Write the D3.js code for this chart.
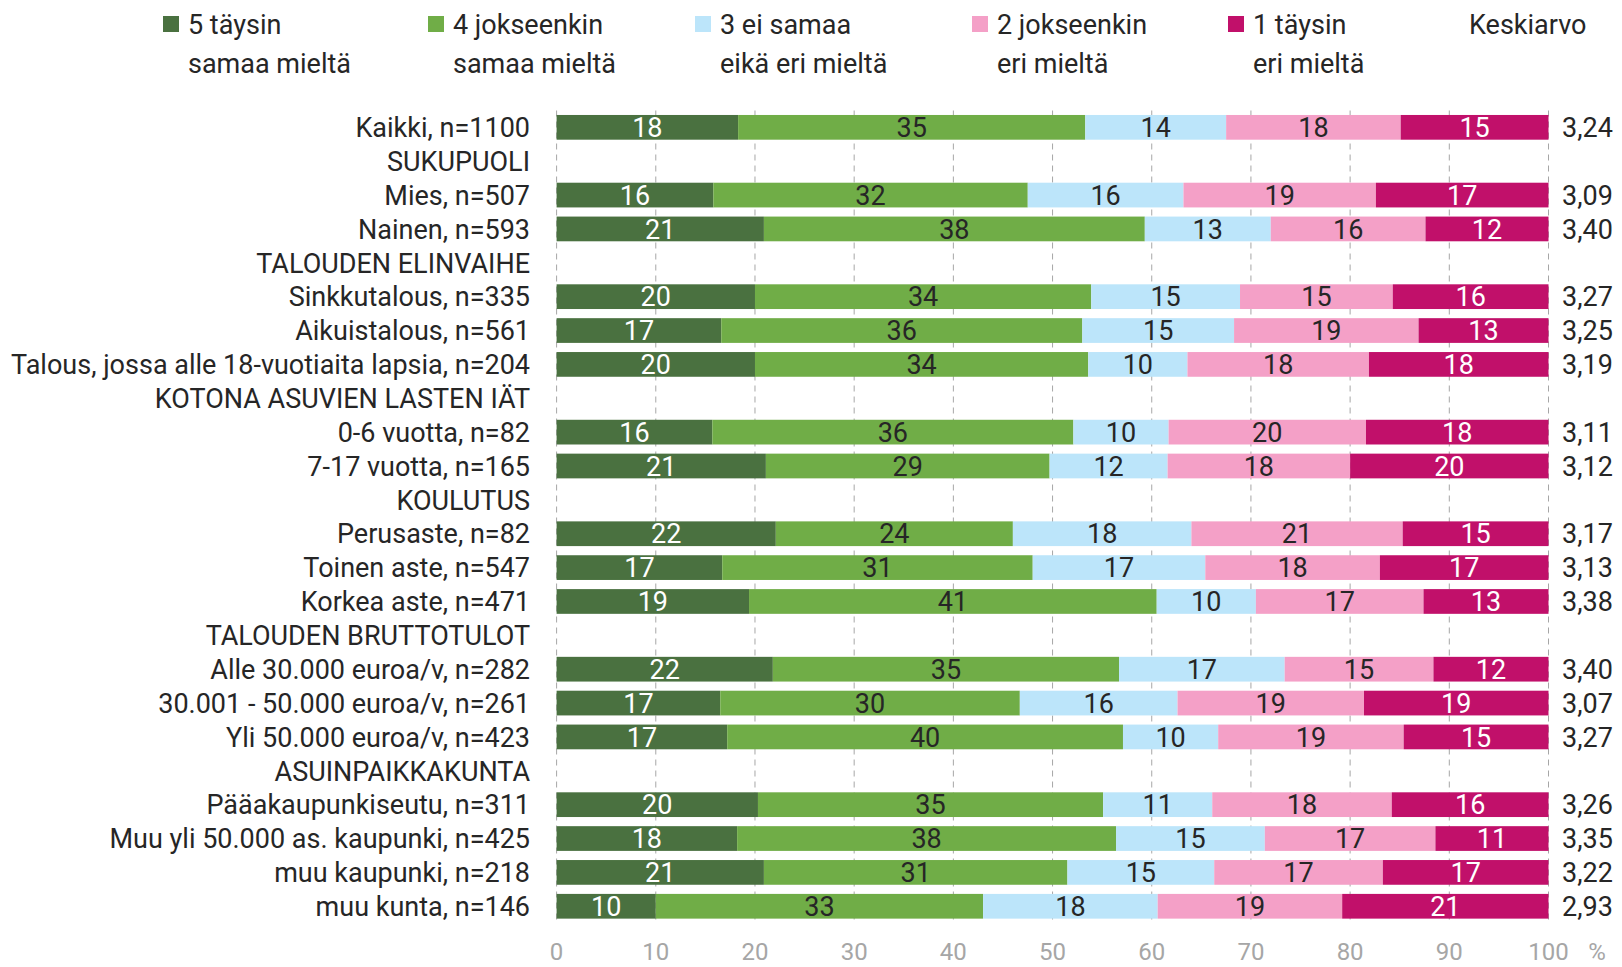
<!DOCTYPE html>
<html lang="fi">
<head>
<meta charset="utf-8">
<title>Keskiarvo</title>
<script src="https://cdn.jsdelivr.net/npm/d3@7"></script>
<style>
  body { margin: 0; background: #fff; }
  text { font-family: "Liberation Sans Narrow", "Roboto", sans-serif; }
</style>
</head>
<body>
<script>
// rows of the chart, headers have no bars
var categories = [
  "Kaikki, n=1100", "SUKUPUOLI", "Mies, n=507", "Nainen, n=593",
  "TALOUDEN ELINVAIHE", "Sinkkutalous, n=335", "Aikuistalous, n=561",
  "Talous, jossa alle 18-vuotiaita lapsia, n=204",
  "KOTONA ASUVIEN LASTEN IÄT", "0-6 vuotta, n=82", "7-17 vuotta, n=165",
  "KOULUTUS", "Perusaste, n=82", "Toinen aste, n=547", "Korkea aste, n=471",
  "TALOUDEN BRUTTOTULOT", "Alle 30.000 euroa/v, n=282",
  "30.001 - 50.000 euroa/v, n=261", "Yli 50.000 euroa/v, n=423",
  "ASUINPAIKKAKUNTA", "Pääakaupunkiseutu, n=311",
  "Muu yli 50.000 as. kaupunki, n=425", "muu kaupunki, n=218", "muu kunta, n=146"
];

// % per answer
var s5 = [18.3, null, 15.8, 20.9, null, 20.0, 16.6, 20.0, null, 15.7, 21.1, null, 22.1, 16.7, 19.4, null, 21.8, 16.5, 17.2, null, 20.3, 18.2, 20.9, 10.0];
var s4 = [35.0, null, 31.7, 38.4, null, 33.9, 36.4, 33.6, null, 36.4, 28.6, null, 23.9, 31.3, 41.1, null, 34.9, 30.2, 39.9, null, 34.8, 38.2, 30.6, 33.0];
var s3 = [14.2, null, 15.7, 12.7, null, 15.0, 15.3, 10.0, null, 9.6, 11.9, null, 18.0, 17.4, 10.0, null, 16.7, 15.9, 9.6, null, 11.0, 15.0, 14.8, 17.6];
var s2 = [17.6, null, 19.4, 15.6, null, 15.4, 18.6, 18.3, null, 19.9, 18.4, null, 21.3, 17.6, 16.9, null, 15.0, 18.8, 18.7, null, 18.1, 17.2, 17.0, 18.6];
var s1 = [14.9, null, 17.4, 12.4, null, 15.7, 13.1, 18.1, null, 18.4, 20.0, null, 14.7, 17.0, 12.6, null, 11.6, 18.6, 14.6, null, 15.8, 11.4, 16.7, 20.8];

var means = ["3,24", "", "3,09", "3,40", "", "3,27", "3,25", "3,19", "", "3,11", "3,12", "",
  "3,17", "3,13", "3,38", "", "3,40", "3,07", "3,27", "", "3,26", "3,35", "3,22", "2,93"];

var seriesNames = [
  ["5 täysin", "samaa mieltä"],
  ["4 jokseenkin", "samaa mieltä"],
  ["3 ei samaa", "eikä eri mieltä"],
  ["2 jokseenkin", "eri mieltä"],
  ["1 täysin", "eri mieltä"]
];
var colors = ["#4a7140", "#70ad47", "#bce5fa", "#f4a0c7", "#c1106a"];
var labelColors = ["#ffffff", "#262626", "#262626", "#262626", "#ffffff"];
var xTicks = [0, 10, 20, 30, 40, 50, 60, 70, 80, 90, 100];

var w = 1622;
var h = 967;
var fontSize = 27;

var svg = d3.select("body")
  .append("svg")
  .attr("width", w)
  .attr("height", h);

var x = d3.scaleLinear().domain([0, 100]).range([556.6, 1548.5]);
var y = d3.scaleBand()
  .domain(d3.range(categories.length))
  .range([110.4, 923.2])
  .paddingInner(0.27)
  .paddingOuter(0.135);

// GRIDLINES
svg.selectAll("line.grid")
  .data(xTicks)
  .enter()
  .append("line")
  .attr("class", "grid")
  .attr("x1", function(d) { return x(d); })
  .attr("x2", function(d) { return x(d); })
  .attr("y1", 110.5)
  .attr("y2", 921.5)
  .attr("stroke", "#a6a6a6")
  .attr("stroke-width", 1)
  .attr("stroke-dasharray", "6,5");

// STACKED BARS
var series = [s5, s4, s3, s2, s1];
var rows = categories.map(function(c, i) {
  return { i: i, vals: series.map(function(s) { return s[i]; }) };
}).filter(function(r) { return r.vals[0] !== null; });

var segs = [];
rows.forEach(function(r) {
  var start = 0;
  r.vals.forEach(function(v, k) {
    segs.push({ i: r.i, k: k, x0: start, x1: start + v, v: v });
    start += v;
  });
});

svg.selectAll("rect.seg")
  .data(segs)
  .enter()
  .append("rect")
  .attr("class", "seg")
  .attr("x", function(d) { return x(d.x0); })
  .attr("y", function(d) { return y(d.i); })
  .attr("width", function(d) { return x(d.x1) - x(d.x0); })
  .attr("height", y.bandwidth())
  .attr("fill", function(d) { return colors[d.k]; });

svg.selectAll("text.val")
  .data(segs)
  .enter()
  .append("text")
  .attr("class", "val")
  .text(function(d) { return Math.round(d.v); })
  .attr("x", function(d) { return x((d.x0 + d.x1) / 2); })
  .attr("y", function(d) { return y(d.i) + y.bandwidth() / 2; })
  .attr("dy", "0.36em")
  .attr("text-anchor", "middle")
  .attr("font-size", fontSize + "px")
  .attr("fill", function(d) { return labelColors[d.k]; });

// CATEGORY LABELS
svg.selectAll("text.cat")
  .data(categories)
  .enter()
  .append("text")
  .attr("class", "cat")
  .text(function(d) { return d; })
  .attr("x", 530)
  .attr("y", function(d, i) { return y(i) + y.bandwidth() / 2; })
  .attr("dy", "0.36em")
  .attr("text-anchor", "end")
  .attr("font-size", fontSize + "px")
  .attr("fill", "#262626");

// MEANS
svg.selectAll("text.mean")
  .data(means)
  .enter()
  .append("text")
  .attr("class", "mean")
  .text(function(d) { return d; })
  .attr("x", 1562)
  .attr("y", function(d, i) { return y(i) + y.bandwidth() / 2; })
  .attr("dy", "0.36em")
  .attr("font-size", fontSize + "px")
  .attr("fill", "#262626");

// X AXIS LABELS
svg.selectAll("text.tick")
  .data(xTicks)
  .enter()
  .append("text")
  .attr("class", "tick")
  .text(function(d) { return d; })
  .attr("x", function(d) { return x(d); })
  .attr("y", 951)
  .attr("dy", "0.36em")
  .attr("text-anchor", "middle")
  .attr("font-size", "24px")
  .attr("fill", "#a6a6a6");

svg.append("text")
  .text("%")
  .attr("x", 1597)
  .attr("y", 951)
  .attr("dy", "0.36em")
  .attr("text-anchor", "middle")
  .attr("font-size", "24px")
  .attr("fill", "#a6a6a6");

// LEGEND
var legendX = [163, 428, 695, 972, 1228];
var legend = svg.selectAll("g.leg")
  .data(seriesNames)
  .enter()
  .append("g")
  .attr("class", "leg")
  .attr("transform", function(d, i) { return "translate(" + legendX[i] + ",0)"; });

legend.append("rect")
  .attr("x", 0)
  .attr("y", 16)
  .attr("width", 16)
  .attr("height", 16)
  .attr("fill", function(d, i) { return colors[i]; });

legend.append("text")
  .text(function(d) { return d[0]; })
  .attr("x", 25)
  .attr("y", 24)
  .attr("dy", "0.36em")
  .attr("font-size", fontSize + "px")
  .attr("fill", "#262626");

legend.append("text")
  .text(function(d) { return d[1]; })
  .attr("x", 25)
  .attr("y", 63)
  .attr("dy", "0.36em")
  .attr("font-size", fontSize + "px")
  .attr("fill", "#262626");

svg.append("text")
  .text("Keskiarvo")
  .attr("x", 1469)
  .attr("y", 24)
  .attr("dy", "0.36em")
  .attr("font-size", fontSize + "px")
  .attr("fill", "#262626");
</script>
</body>
</html>
